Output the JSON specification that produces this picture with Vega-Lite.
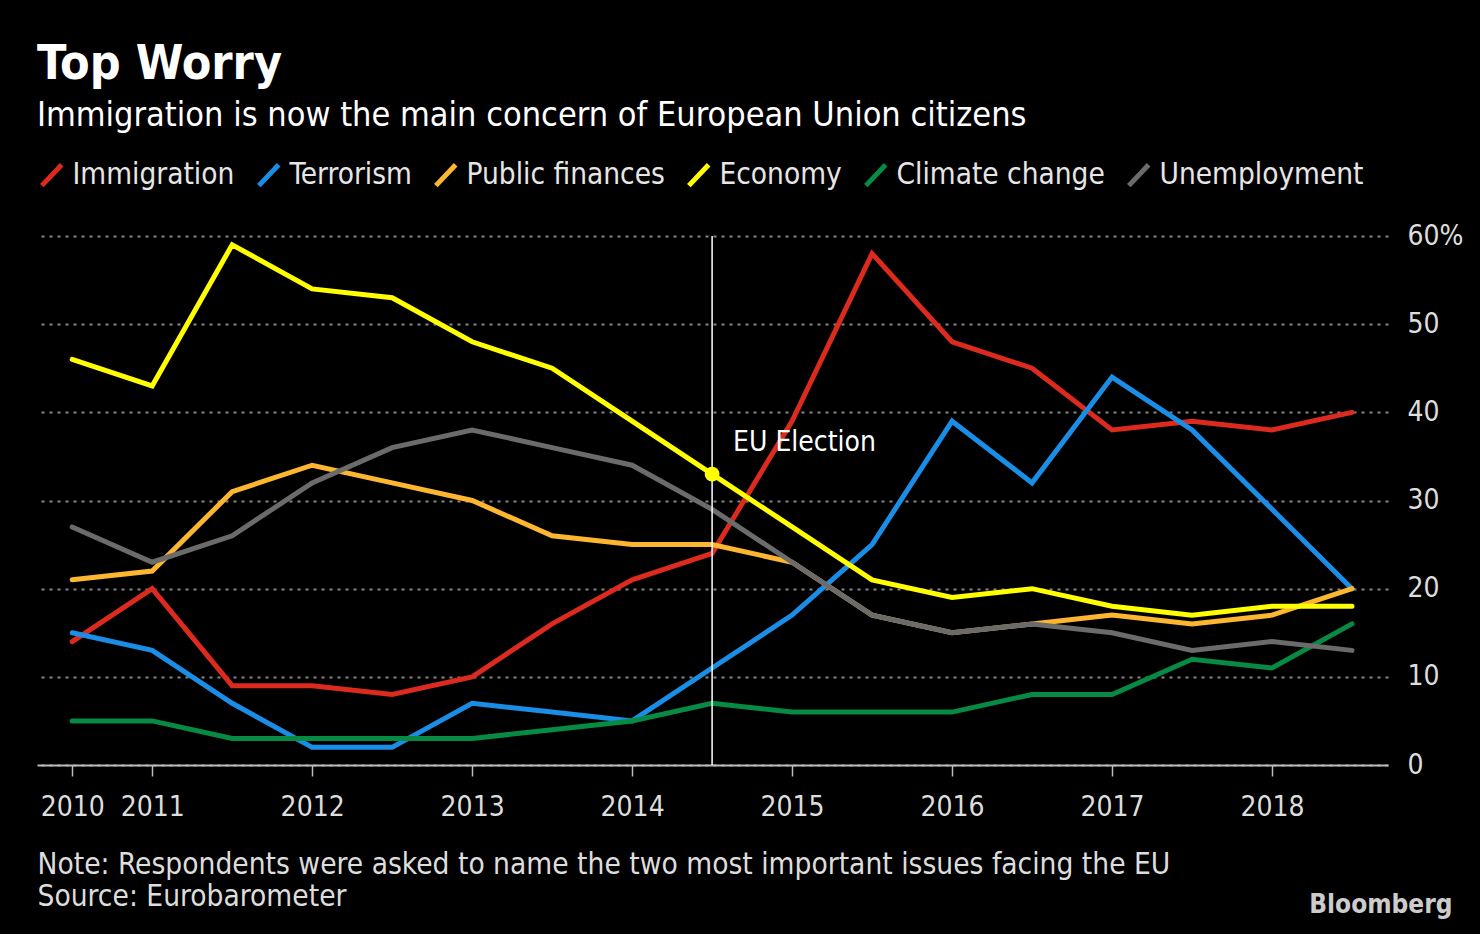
{
  "$schema": "https://vega.github.io/schema/vega-lite/v6.json",
  "background": "#000000",
  "autosize": {"type": "none"},
  "width": 1351,
  "height": 529,
  "padding": {"left": 37, "top": 236, "right": 92, "bottom": 169},
  "title": {
    "text": "Top Worry",
    "subtitle": "Immigration is now the main concern of European Union citizens",
    "anchor": "start",
    "frame": "group",
    "font": "DejaVu Sans Condensed",
    "fontSize": 48,
    "fontWeight": "bold",
    "color": "#ffffff",
    "subtitleFont": "DejaVu Sans Condensed",
    "subtitleFontSize": 34,
    "subtitleColor": "#ffffff",
    "subtitlePadding": 10,
    "offset": 27
  },
  "config": {
    "view": {"stroke": null},
    "font": "DejaVu Sans Condensed"
  },
  "datasets": {
    "worries": [
      {"period": 2010.5, "issue": "Immigration", "share": 14},
      {"period": 2011, "issue": "Immigration", "share": 20},
      {"period": 2011.5, "issue": "Immigration", "share": 9},
      {"period": 2012, "issue": "Immigration", "share": 9},
      {"period": 2012.5, "issue": "Immigration", "share": 8},
      {"period": 2013, "issue": "Immigration", "share": 10},
      {"period": 2013.5, "issue": "Immigration", "share": 16},
      {"period": 2014, "issue": "Immigration", "share": 21},
      {"period": 2014.5, "issue": "Immigration", "share": 24},
      {"period": 2015, "issue": "Immigration", "share": 39},
      {"period": 2015.5, "issue": "Immigration", "share": 58},
      {"period": 2016, "issue": "Immigration", "share": 48},
      {"period": 2016.5, "issue": "Immigration", "share": 45},
      {"period": 2017, "issue": "Immigration", "share": 38},
      {"period": 2017.5, "issue": "Immigration", "share": 39},
      {"period": 2018, "issue": "Immigration", "share": 38},
      {"period": 2018.5, "issue": "Immigration", "share": 40},

      {"period": 2010.5, "issue": "Terrorism", "share": 15},
      {"period": 2011, "issue": "Terrorism", "share": 13},
      {"period": 2011.5, "issue": "Terrorism", "share": 7},
      {"period": 2012, "issue": "Terrorism", "share": 2},
      {"period": 2012.5, "issue": "Terrorism", "share": 2},
      {"period": 2013, "issue": "Terrorism", "share": 7},
      {"period": 2013.5, "issue": "Terrorism", "share": 6},
      {"period": 2014, "issue": "Terrorism", "share": 5},
      {"period": 2014.5, "issue": "Terrorism", "share": 11},
      {"period": 2015, "issue": "Terrorism", "share": 17},
      {"period": 2015.5, "issue": "Terrorism", "share": 25},
      {"period": 2016, "issue": "Terrorism", "share": 39},
      {"period": 2016.5, "issue": "Terrorism", "share": 32},
      {"period": 2017, "issue": "Terrorism", "share": 44},
      {"period": 2017.5, "issue": "Terrorism", "share": 38},
      {"period": 2018, "issue": "Terrorism", "share": 29},
      {"period": 2018.5, "issue": "Terrorism", "share": 20},

      {"period": 2010.5, "issue": "Public finances", "share": 21},
      {"period": 2011, "issue": "Public finances", "share": 22},
      {"period": 2011.5, "issue": "Public finances", "share": 31},
      {"period": 2012, "issue": "Public finances", "share": 34},
      {"period": 2012.5, "issue": "Public finances", "share": 32},
      {"period": 2013, "issue": "Public finances", "share": 30},
      {"period": 2013.5, "issue": "Public finances", "share": 26},
      {"period": 2014, "issue": "Public finances", "share": 25},
      {"period": 2014.5, "issue": "Public finances", "share": 25},
      {"period": 2015, "issue": "Public finances", "share": 23},
      {"period": 2015.5, "issue": "Public finances", "share": 17},
      {"period": 2016, "issue": "Public finances", "share": 15},
      {"period": 2016.5, "issue": "Public finances", "share": 16},
      {"period": 2017, "issue": "Public finances", "share": 17},
      {"period": 2017.5, "issue": "Public finances", "share": 16},
      {"period": 2018, "issue": "Public finances", "share": 17},
      {"period": 2018.5, "issue": "Public finances", "share": 20},

      {"period": 2010.5, "issue": "Economy", "share": 46},
      {"period": 2011, "issue": "Economy", "share": 43},
      {"period": 2011.5, "issue": "Economy", "share": 59},
      {"period": 2012, "issue": "Economy", "share": 54},
      {"period": 2012.5, "issue": "Economy", "share": 53},
      {"period": 2013, "issue": "Economy", "share": 48},
      {"period": 2013.5, "issue": "Economy", "share": 45},
      {"period": 2014, "issue": "Economy", "share": 39},
      {"period": 2014.5, "issue": "Economy", "share": 33},
      {"period": 2015, "issue": "Economy", "share": 27},
      {"period": 2015.5, "issue": "Economy", "share": 21},
      {"period": 2016, "issue": "Economy", "share": 19},
      {"period": 2016.5, "issue": "Economy", "share": 20},
      {"period": 2017, "issue": "Economy", "share": 18},
      {"period": 2017.5, "issue": "Economy", "share": 17},
      {"period": 2018, "issue": "Economy", "share": 18},
      {"period": 2018.5, "issue": "Economy", "share": 18},

      {"period": 2010.5, "issue": "Climate change", "share": 5},
      {"period": 2011, "issue": "Climate change", "share": 5},
      {"period": 2011.5, "issue": "Climate change", "share": 3},
      {"period": 2012, "issue": "Climate change", "share": 3},
      {"period": 2012.5, "issue": "Climate change", "share": 3},
      {"period": 2013, "issue": "Climate change", "share": 3},
      {"period": 2013.5, "issue": "Climate change", "share": 4},
      {"period": 2014, "issue": "Climate change", "share": 5},
      {"period": 2014.5, "issue": "Climate change", "share": 7},
      {"period": 2015, "issue": "Climate change", "share": 6},
      {"period": 2015.5, "issue": "Climate change", "share": 6},
      {"period": 2016, "issue": "Climate change", "share": 6},
      {"period": 2016.5, "issue": "Climate change", "share": 8},
      {"period": 2017, "issue": "Climate change", "share": 8},
      {"period": 2017.5, "issue": "Climate change", "share": 12},
      {"period": 2018, "issue": "Climate change", "share": 11},
      {"period": 2018.5, "issue": "Climate change", "share": 16},

      {"period": 2010.5, "issue": "Unemployment", "share": 27},
      {"period": 2011, "issue": "Unemployment", "share": 23},
      {"period": 2011.5, "issue": "Unemployment", "share": 26},
      {"period": 2012, "issue": "Unemployment", "share": 32},
      {"period": 2012.5, "issue": "Unemployment", "share": 36},
      {"period": 2013, "issue": "Unemployment", "share": 38},
      {"period": 2013.5, "issue": "Unemployment", "share": 36},
      {"period": 2014, "issue": "Unemployment", "share": 34},
      {"period": 2014.5, "issue": "Unemployment", "share": 29},
      {"period": 2015, "issue": "Unemployment", "share": 23},
      {"period": 2015.5, "issue": "Unemployment", "share": 17},
      {"period": 2016, "issue": "Unemployment", "share": 15},
      {"period": 2016.5, "issue": "Unemployment", "share": 16},
      {"period": 2017, "issue": "Unemployment", "share": 15},
      {"period": 2017.5, "issue": "Unemployment", "share": 13},
      {"period": 2018, "issue": "Unemployment", "share": 14},
      {"period": 2018.5, "issue": "Unemployment", "share": 13}
    ],
    "election": [
      {"period": 2014.5, "share": 33, "label": "EU Election", "labelShare": 36.5}
    ]
  },
  "layer": [
    {
      "data": {"name": "worries"},
      "mark": {"type": "line", "strokeWidth": 5, "strokeCap": "round"},
      "encoding": {
        "x": {
          "field": "period",
          "type": "quantitative",
          "scale": {"domain": [2010.28, 2018.725], "nice": false, "zero": false},
          "axis": {
            "values": [2010.5, 2011, 2012, 2013, 2014, 2015, 2016, 2017, 2018],
            "labelExpr": "datum.value == 2010.5 ? '2010' : toString(datum.value)",
            "grid": false,
            "domainColor": "#bbbbbb",
            "domainWidth": 2,
            "tickColor": "#bbbbbb",
            "tickWidth": 1.5,
            "tickSize": 11,
            "labelFontSize": 28,
            "labelColor": "#dddddd",
            "labelPadding": 17,
            "labelFont": "DejaVu Sans Condensed",
            "title": ["Note: Respondents were asked to name the two most important issues facing the EU", "Source: Eurobarometer"],
            "titleFont": "DejaVu Sans Condensed",
            "titleFontSize": 29.6,
            "titleFontWeight": "normal",
            "titleColor": "#dddddd",
            "titleAnchor": "start",
            "titleAlign": "left",
            "titleBaseline": "alphabetic",
            "titleLineHeight": 32,
            "titleX": 0,
            "titleY": 108
          }
        },
        "y": {
          "field": "share",
          "type": "quantitative",
          "scale": {"domain": [0, 60], "nice": false},
          "axis": {
            "orient": "right",
            "values": [0, 10, 20, 30, 40, 50, 60],
            "labelExpr": "datum.value == 60 ? '60%' : datum.label",
            "domain": false,
            "ticks": false,
            "labelPadding": 19,
            "labelFontSize": 28,
            "labelColor": "#dddddd",
            "labelFont": "DejaVu Sans Condensed",
            "gridColor": "#888888",
            "gridWidth": 2,
            "gridDash": [3, 5],
            "title": "Bloomberg",
            "titleAngle": 0,
            "titleFont": "DejaVu Sans Condensed",
            "titleFontSize": 26,
            "titleFontWeight": "bold",
            "titleColor": "#cccccc",
            "titleAlign": "right",
            "titleBaseline": "alphabetic",
            "titleX": 64,
            "titleY": 676
          }
        },
        "color": {
          "field": "issue",
          "type": "nominal",
          "scale": {
            "domain": ["Immigration", "Terrorism", "Public finances", "Economy", "Climate change", "Unemployment"],
            "range": ["#dc2a1f", "#1a8ee6", "#fdb630", "#ffff00", "#078a43", "#6b6b6b"]
          },
          "legend": {
            "title": null,
            "orient": "top",
            "direction": "horizontal",
            "columns": 6,
            "offset": 38,
            "symbolType": "M-0.9,0.95L0.9,-0.95",
            "symbolSize": 484,
            "symbolStrokeWidth": 5,
            "labelFontSize": 29.5,
            "labelFont": "DejaVu Sans Condensed",
            "labelColor": "#e6e6e6",
            "labelOffset": 6,
            "columnPadding": 13,
            "labelLimit": 400
          }
        },
        "order": {"value": 0}
      }
    },
    {
      "data": {"name": "election"},
      "mark": {"type": "rule", "color": "#ffffff", "strokeWidth": 1.5},
      "encoding": {
        "x": {"field": "period", "type": "quantitative"}
      }
    },
    {
      "data": {"name": "election"},
      "mark": {"type": "point", "filled": true, "color": "#ffff00", "size": 220, "opacity": 1},
      "encoding": {
        "x": {"field": "period", "type": "quantitative"},
        "y": {"field": "share", "type": "quantitative"}
      }
    },
    {
      "data": {"name": "election"},
      "mark": {"type": "text", "align": "left", "baseline": "middle", "dx": 21, "fontSize": 28, "color": "#ffffff", "font": "DejaVu Sans Condensed"},
      "encoding": {
        "x": {"field": "period", "type": "quantitative"},
        "y": {"field": "labelShare", "type": "quantitative"},
        "text": {"field": "label"}
      }
    }
  ]
}
